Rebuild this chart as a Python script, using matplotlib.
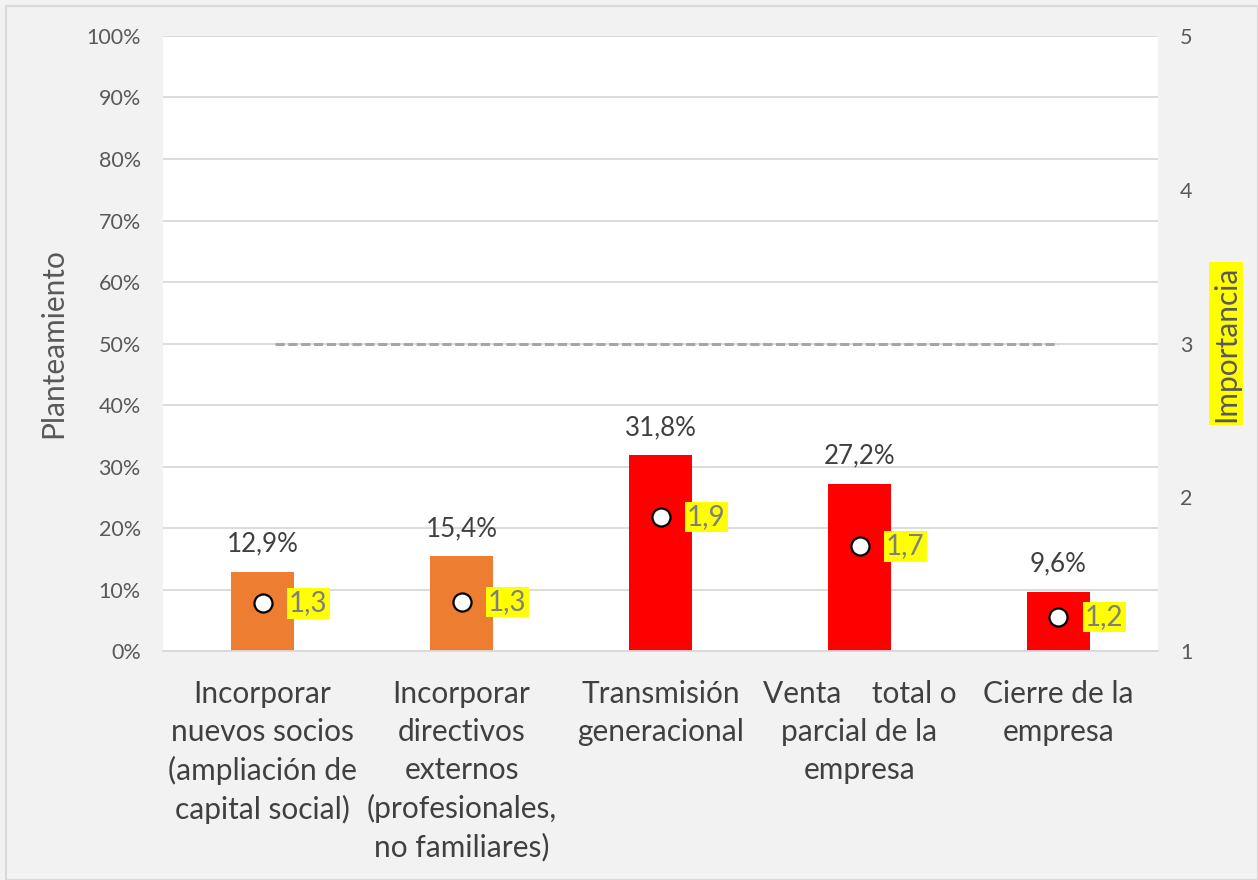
import matplotlib.pyplot as plt
import numpy as np

# datos
categorias = ['Incorporar\nnuevos socios\n(ampliación de\ncapital social)',
              'Incorporar\ndirectivos\nexternos\n(profesionales,\nno familiares)',
              'Transmisión\ngeneracional',
              'Venta    total o\nparcial de la\nempresa',
              'Cierre de la\nempresa']
planteamiento = [12.9, 15.4, 31.8, 27.2, 9.6]
importancia = [1.31, 1.32, 1.87, 1.68, 1.22]
colores = ['#ED7D31', '#ED7D31', '#FF0000', '#FF0000', '#FF0000']
umbral = 50
ticks_izq = [0, 10, 20, 30, 40, 50, 60, 70, 80, 90, 100]
ticks_der = [1, 2, 3, 4, 5]

plt.rcParams['font.family'] = ['Lato', 'DejaVu Sans']

fig = plt.figure(figsize=(12.58, 8.80), dpi=100, facecolor='#F2F2F2')
ax = fig.add_axes([0.1296, 0.2602, 0.7909, 0.6989])
ax.set_facecolor('white')
x = np.arange(len(categorias))

ax.set_axisbelow(True)
ax.yaxis.grid(True, color='#D9D9D9', linewidth=1.3)
ax.bar(x, planteamiento, width=0.317, color=colores, zorder=2)
for xi, v in zip(x, planteamiento):
    ax.annotate(f'{v:.1f}%'.replace('.', ','), (xi, v), xytext=(0, 11),
                textcoords='offset points', ha='center', va='bottom',
                fontsize=18.7, color='#404040')

ax.hlines(umbral, x[0] + 0.065, x[-1], colors='#A6A6A6', linestyles=(0, (3, 1.2)),
          linewidth=2.2, zorder=3)

ax.set_xlim(-0.5, len(categorias) - 0.5)
ax.set_ylim(0, 100)
ax.set_yticks(ticks_izq)
ax.set_yticklabels([f'{t}%' for t in ticks_izq])
ax.set_xticks(x)
ax.set_xticklabels(categorias, fontsize=21.5, color='#404040', linespacing=1.42)
ax.tick_params(axis='y', length=0, labelsize=15.5, labelcolor='#595959', pad=16)
ax.tick_params(axis='x', length=0, pad=21)
for s in ax.spines.values():
    s.set_visible(False)
ax.spines['bottom'].set_visible(True)
ax.spines['bottom'].set_color('#D9D9D9')
ax.spines['bottom'].set_linewidth(1.3)
ax.set_ylabel('Planteamiento', fontsize=21.5, color='#595959', labelpad=14)

ax2 = ax.twinx()
ax2.set_ylim(1, 5)
ax2.set_yticks(ticks_der)
ax2.tick_params(axis='y', length=0, labelsize=15.5, labelcolor='#595959', pad=16)
for s in ax2.spines.values():
    s.set_visible(False)
ax2.plot(x, importancia, 'o', markersize=13, markerfacecolor='white',
         markeredgecolor='black', markeredgewidth=1.6, zorder=4)
for xi, v in zip(x, importancia):
    ax2.annotate(f'{v:.1f}'.replace('.', ','), (xi, v), xytext=(19, 0),
                 textcoords='offset points', ha='left', va='center',
                 fontsize=20, color='#7F7F7F',
                 bbox=dict(boxstyle='square,pad=0.08', facecolor='yellow', edgecolor='none'))
ax2.set_ylabel('Importancia', fontsize=21.5, color='#595959', labelpad=14,
               bbox=dict(boxstyle='square,pad=0.1', facecolor='yellow', edgecolor='none'))

fig.patches.append(plt.Rectangle((0.005, 0.0), 0.995, 0.993, transform=fig.transFigure,
                                 fill=False, edgecolor='#D9D9D9', linewidth=1.5))

fig.savefig('out.png', dpi=100, facecolor=fig.get_facecolor())
